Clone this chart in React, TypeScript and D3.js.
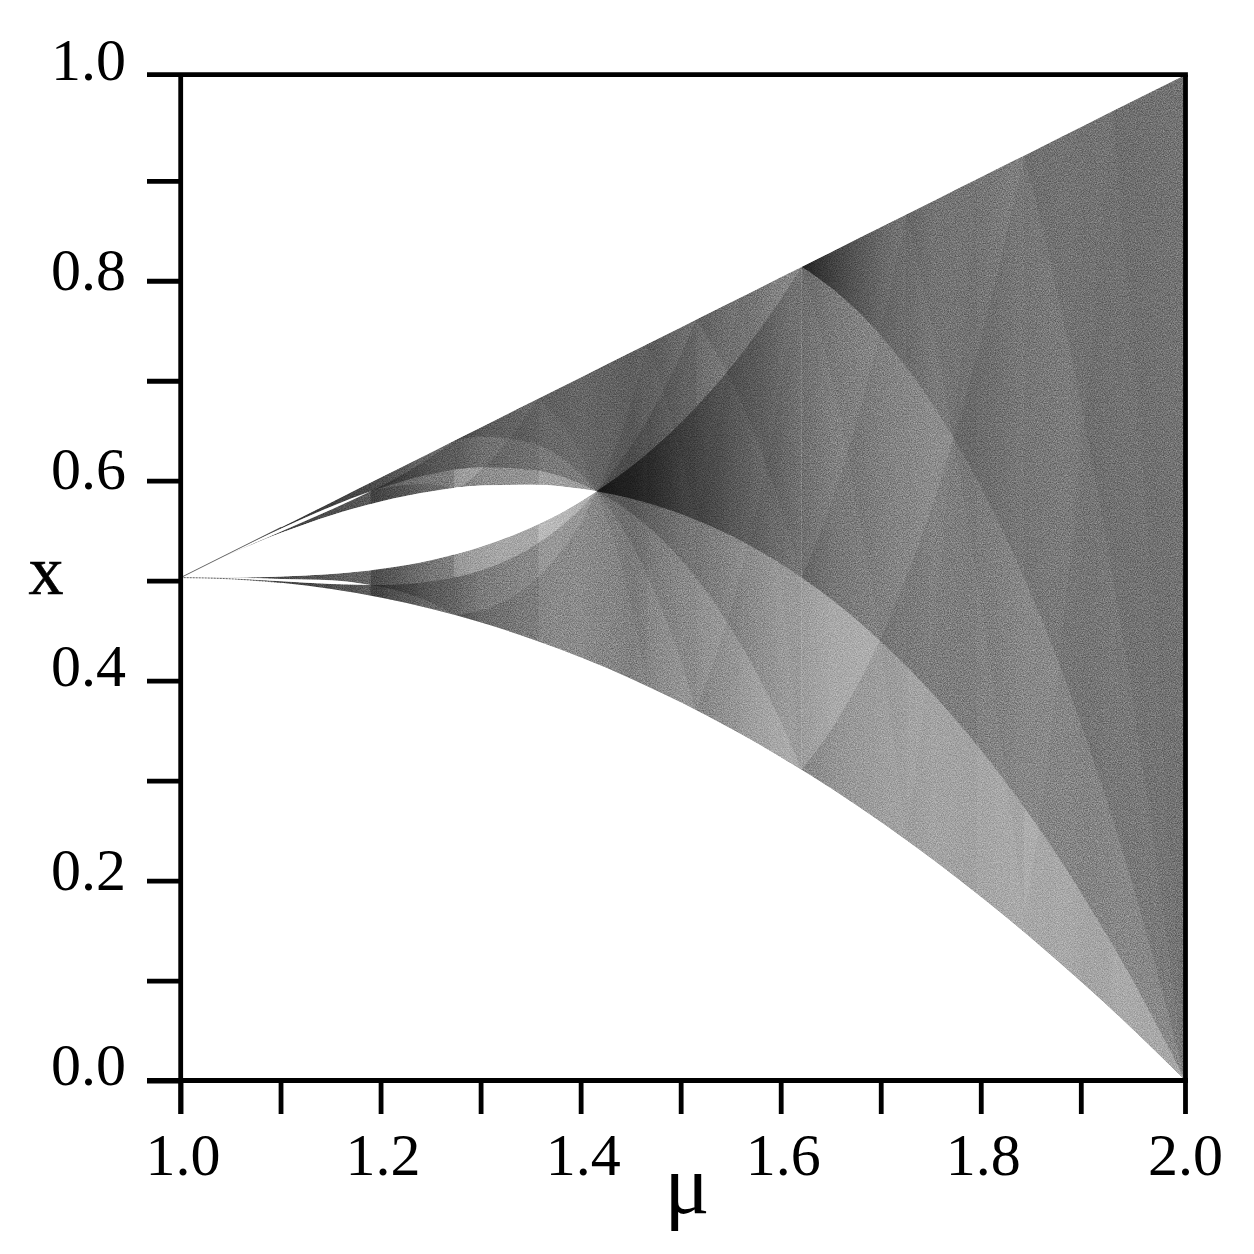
import React from "react";
import * as d3 from "d3";

// Axis ticks, where the printed ticks actually sit on the two axes
const muTicks = [1.0, 1.1, 1.2, 1.3, 1.4, 1.5, 1.6, 1.7, 1.8, 1.9];
const xTicks = [0.0, 0.1, 0.2, 0.3, 0.4, 0.5, 0.6, 0.7, 0.8, 0.9];
const muLabels = ["1.0", "1.2", "1.4", "1.6", "1.8", "2.0"];
const xLabels = ["0.0", "0.2", "0.4", "0.6", "0.8", "1.0"];

// Band edges
const muEnv = [1.0, 1.05, 1.1, 1.15, 1.2, 1.25, 1.3, 1.35, 1.4, 1.45, 1.5, 1.55, 1.6, 1.65, 1.7, 1.75, 1.8, 1.85, 1.9, 1.95, 2.0];
const upperEdge = [0.5, 0.525, 0.55, 0.575, 0.6, 0.625, 0.65, 0.675, 0.7, 0.725, 0.75, 0.775, 0.8, 0.825, 0.85, 0.875, 0.9, 0.925, 0.95, 0.975, 1.0];
const lowerEdge = [0.5, 0.49875, 0.495, 0.48875, 0.48, 0.46875, 0.455, 0.43875, 0.42, 0.39875, 0.375, 0.34875, 0.32, 0.28875, 0.255, 0.21875, 0.18, 0.13875, 0.095, 0.04875, 0.0];

const muA = [1.0, 1.05, 1.1, 1.15, 1.2, 1.25, 1.3, 1.35, 1.4, 1.414, 1.45, 1.5, 1.55, 1.6, 1.618, 1.65, 1.7, 1.75, 1.8, 1.85, 1.9, 1.95, 2.0];
const arcA = [0.5, 0.5237, 0.5445, 0.5621, 0.576, 0.5859, 0.5915, 0.5923, 0.588, 0.5858, 0.5782, 0.5625, 0.5406, 0.512, 0.5, 0.4764, 0.4335, 0.3828, 0.324, 0.2567, 0.1805, 0.0951, 0.0];
const arcB = [0.5, 0.5001, 0.5011, 0.5036, 0.5088, 0.5176, 0.5311, 0.5504, 0.5768, 0.5858, 0.6116, 0.6563, 0.7121, 0.7808, 0.809, 0.7861, 0.737, 0.6699, 0.5832, 0.4749, 0.343, 0.1854, 0.0];

const muC = [1.0, 1.05, 1.1, 1.15, 1.1892, 1.2, 1.25, 1.3, 1.35, 1.4, 1.414, 1.45, 1.5, 1.55, 1.6, 1.618, 1.65, 1.7, 1.75, 1.8, 1.8393, 1.85, 1.9, 1.95, 2.0];
const arcC = [0.5, 0.5249, 0.5489, 0.5708, 0.5858, 0.5894, 0.603, 0.6096, 0.607, 0.5925, 0.5858, 0.5631, 0.5156, 0.4462, 0.3507, 0.309, 0.3529, 0.4472, 0.5776, 0.7502, 0.9196, 0.8785, 0.6516, 0.3615, 0.0];

const muD = [1.0, 1.05, 1.1, 1.15, 1.1892, 1.2, 1.25, 1.3, 1.35, 1.4, 1.414, 1.45, 1.5, 1.5129, 1.55, 1.6, 1.618, 1.65, 1.7, 1.722, 1.75, 1.8, 1.8393, 1.85, 1.883, 1.9, 1.9276, 1.95, 2.0];
const arcD = [0.5, 0.4989, 0.4963, 0.4936, 0.4926, 0.4927, 0.4962, 0.5075, 0.5306, 0.5705, 0.5858, 0.6335, 0.7266, 0.7564, 0.6916, 0.5612, 0.5, 0.5823, 0.7602, 0.861, 0.7391, 0.4496, 0.169, 0.2247, 0.5, 0.6619, 0.9638, 0.7049, 0.0];

const muE = [1.0, 1.05, 1.1, 1.15, 1.1892, 1.2, 1.25, 1.272, 1.3, 1.35, 1.4, 1.414, 1.45, 1.5, 1.5129, 1.55, 1.6, 1.618, 1.65, 1.7, 1.722, 1.75, 1.7925];
const arcE = [0.5, 0.5239, 0.5459, 0.5676, 0.5858, 0.5912, 0.6203, 0.636, 0.6403, 0.6337, 0.6013, 0.5858, 0.5315, 0.4102, 0.369, 0.478, 0.7022, 0.809, 0.6892, 0.4076, 0.2393, 0.4565, 0.896];

const muF = [1.0, 1.05, 1.1, 1.15, 1.1892, 1.2, 1.25, 1.272, 1.3, 1.35, 1.4, 1.414, 1.45, 1.464, 1.5, 1.5129, 1.55, 1.556, 1.6, 1.618];
const arcF = [0.5, 0.5, 0.4986, 0.4973, 0.4926, 0.4906, 0.4747, 0.463, 0.4676, 0.4955, 0.5582, 0.5858, 0.6793, 0.732, 0.6152, 0.558, 0.7409, 0.778, 0.4765, 0.309];

const muG = [1.1892, 1.2, 1.25, 1.272, 1.3, 1.356, 1.4, 1.414, 1.45, 1.464];
const arcG = [0.5858, 0.5887, 0.5933, 0.589, 0.6079, 0.678, 0.6185, 0.5858, 0.465, 0.392];

// Each stretch shades the picture below its arc: "dark" deepens it, "light" lifts it
const arcStretches = [
  { mu: muA, x: arcA, order: 2, from: 1.0, to: 2.0, tone: "light" },
  { mu: muA, x: arcB, order: 3, from: 1.0, to: 1.618, tone: "dark" },
  { mu: muA, x: arcB, order: 3, from: 1.618, to: 2.0, tone: "light" },
  { mu: muC, x: arcC, order: 4, from: 1.0, to: 1.618, tone: "light" },
  { mu: muC, x: arcC, order: 4, from: 1.618, to: 1.8393, tone: "dark" },
  { mu: muC, x: arcC, order: 4, from: 1.8393, to: 2.0, tone: "light" },
  { mu: muD, x: arcD, order: 5, from: 1.0, to: 1.5129, tone: "dark" },
  { mu: muD, x: arcD, order: 5, from: 1.5129, to: 1.618, tone: "light" },
  { mu: muD, x: arcD, order: 5, from: 1.618, to: 1.722, tone: "dark" },
  { mu: muD, x: arcD, order: 5, from: 1.722, to: 1.8393, tone: "light" },
  { mu: muD, x: arcD, order: 5, from: 1.8393, to: 1.9276, tone: "dark" },
  { mu: muD, x: arcD, order: 5, from: 1.9276, to: 2.0, tone: "light" },
  { mu: muE, x: arcE, order: 6, from: 1.0, to: 1.272, tone: "dark" },
  { mu: muE, x: arcE, order: 6, from: 1.272, to: 1.5129, tone: "light" },
  { mu: muE, x: arcE, order: 6, from: 1.5129, to: 1.618, tone: "dark" },
  { mu: muE, x: arcE, order: 6, from: 1.618, to: 1.722, tone: "light" },
  { mu: muE, x: arcE, order: 6, from: 1.722, to: 1.7925, tone: "dark" },
  { mu: muF, x: arcF, order: 7, from: 1.0, to: 1.272, tone: "light" },
  { mu: muF, x: arcF, order: 7, from: 1.272, to: 1.464, tone: "dark" },
  { mu: muF, x: arcF, order: 7, from: 1.464, to: 1.5129, tone: "light" },
  { mu: muF, x: arcF, order: 7, from: 1.5129, to: 1.556, tone: "dark" },
  { mu: muF, x: arcF, order: 7, from: 1.556, to: 1.618, tone: "light" },
  { mu: muG, x: arcG, order: 8, from: 1.1892, to: 1.356, tone: "dark" },
  { mu: muG, x: arcG, order: 8, from: 1.356, to: 1.464, tone: "light" },
];

// Darkness scale against mu; repeated mu values are the joins between stretches
const shadeMu = [1.0, 1.1, 1.2, 1.25, 1.272, 1.272, 1.3, 1.356, 1.356, 1.4, 1.414, 1.45, 1.464, 1.464, 1.5, 1.5129, 1.5129, 1.556, 1.556, 1.6, 1.618, 1.618, 1.65, 1.7, 1.722, 1.722, 1.75, 1.8, 1.8393, 1.8393, 1.85, 1.883, 1.9, 1.9276, 1.9276, 2.0];
const shadeScale = [2.0, 1.6, 1.2, 0.88, 0.82, 1.38, 1.05, 0.88, 1.0, 0.92, 0.95, 1.0, 0.92, 1.08, 0.86, 0.83, 1.0, 0.78, 0.85, 0.66, 0.62, 1.18, 0.96, 0.8, 0.74, 0.88, 0.8, 0.78, 0.69, 0.85, 0.83, 0.8, 0.81, 0.79, 0.85, 0.8];

// Extra darkness that gathers at the point where the bands merge
const wedgeMu = [1.414, 1.44, 1.47, 1.5, 1.55, 1.6, 1.618];
const wedgeShade = [0.6, 0.42, 0.28, 0.18, 0.1, 0.05, 0.0];

// Extra darkness in the corner above the peak at mu = 1.618
const cornerMu = [1.618, 1.64, 1.67, 1.7, 1.75];
const cornerShade = [0.55, 0.38, 0.2, 0.08, 0.0];

// Baselines of the x-axis labels against their ticks
const xLabelLift = [4, 9, 5, 8, 8.5, 0];

const W = 1254;
const L = 180.7, R = 1185.5, T = 74.7, B = 1080.5;
const FONT = "'Liberation Serif', 'Times New Roman', serif";

const muScale = d3.scaleLinear().domain([1, 2]).range([L, R]);
const xScale = d3.scaleLinear().domain([0, 1]).range([B, T]);
const muTickScale = d3.scaleLinear().domain([1, 1.9]).range([181, 1081.3]);
const xTickScale = d3.scaleLinear().domain([0, 0.9]).range([1081, 181.3]);

function pairs(mu: number[], x: number[], from: number, to: number): [number, number][] {
  const out: [number, number][] = [];
  mu.forEach((m, i) => {
    if (m >= from - 1e-9 && m <= to + 1e-9) out.push([m, x[i]]);
  });
  return out;
}

const edgeLine = d3
  .line<[number, number]>()
  .x((d) => muScale(d[0]))
  .y((d) => xScale(d[1]))
  .curve(d3.curveMonotoneX);

function bandPath(lowMu: number[], low: number[], highMu: number[], high: number[], from: number, to: number) {
  const lo = pairs(lowMu, low, from, to);
  const hi = pairs(highMu, high, from, to).reverse();
  const a = edgeLine(lo) as string;
  const b = edgeLine(hi) as string;
  return a + "L" + b.slice(1) + "Z";
}

function stretchPath(s: (typeof arcStretches)[number]) {
  const pts = pairs(s.mu, s.x, s.from, s.to);
  const area = d3
    .area<[number, number]>()
    .x((d) => muScale(d[0]))
    .y0(xScale(0))
    .y1((d) => xScale(d[1]))
    .curve(d3.curveMonotoneX);
  return area(pts) as string;
}

const stopAt = (m: number) => `${((m - 1) * 100).toFixed(3)}%`;
const strength = (i: number, order: number) => 1 - Math.exp(-shadeScale[i] / Math.pow(shadeMu[i], order));
const orders = [2, 3, 4, 5, 6, 7, 8];

export default function App() {
  const envelope = bandPath(muEnv, lowerEdge, muEnv, upperEdge, 1, 2);
  const gapMain = bandPath(muA, arcB, muA, arcA, 1, 1.414);
  const gapUpper = bandPath(muE, arcE, muC, arcC, 1, 1.1892);
  const gapLower = bandPath(muD, arcD, muF, arcF, 1, 1.1892);
  const wedge = bandPath(muA, arcA, muA, arcB, 1.414, 1.618);
  const corner = bandPath(muA, arcB, muEnv, upperEdge, 1.618, 1.75);
  const tipUpper = edgeLine(pairs(muEnv, upperEdge, 1, 1.1)) as string;
  const tipLower = edgeLine(pairs(muEnv, lowerEdge, 1, 1.1)) as string;
  const darkFirst = [...arcStretches.filter((s) => s.tone === "dark"), ...arcStretches.filter((s) => s.tone === "light")];
  return (
    <svg width={W} height={W} viewBox={`0 0 ${W} ${W}`} style={{ position: "absolute", left: 0, top: 0, background: "#fff" }}>
      <defs>
        <clipPath id="env"><path d={envelope} /></clipPath>
        <linearGradient id="base" gradientUnits="userSpaceOnUse" x1={L} x2={R} y1={0} y2={0}>
          {shadeMu.map((m, i) => {
            const g = Math.round(255 * Math.exp(-shadeScale[i]));
            return <stop key={i} offset={stopAt(m)} stopColor={`rgb(${g},${g},${g})`} />;
          })}
        </linearGradient>
        {orders.map((n) => (
          <linearGradient key={n} id={`dark${n}`} gradientUnits="userSpaceOnUse" x1={L} x2={R} y1={0} y2={0}>
            {shadeMu.map((m, i) => (
              <stop key={i} offset={stopAt(m)} stopColor="#000" stopOpacity={strength(i, n)} />
            ))}
          </linearGradient>
        ))}
        {orders.map((n) => (
          <linearGradient key={n} id={`light${n}`} gradientUnits="userSpaceOnUse" x1={L} x2={R} y1={0} y2={0}>
            {shadeMu.map((m, i) => {
              const g = Math.round(255 * strength(i, n));
              return <stop key={i} offset={stopAt(m)} stopColor={`rgb(${g},${g},${g})`} />;
            })}
          </linearGradient>
        ))}
        <linearGradient id="wedgeFill" gradientUnits="userSpaceOnUse" x1={muScale(1.414)} x2={muScale(1.618)} y1={0} y2={0}>
          {wedgeMu.map((m, i) => (
            <stop key={m} offset={`${((m - 1.414) / 0.204) * 100}%`} stopColor="#000" stopOpacity={wedgeShade[i]} />
          ))}
        </linearGradient>
        <linearGradient id="cornerFill" gradientUnits="userSpaceOnUse" x1={muScale(1.618)} x2={muScale(1.75)} y1={0} y2={0}>
          {cornerMu.map((m, i) => (
            <stop key={m} offset={`${((m - 1.618) / 0.132) * 100}%`} stopColor="#000" stopOpacity={cornerShade[i]} />
          ))}
        </linearGradient>
        <filter id="grain" x="0" y="0" width="100%" height="100%" colorInterpolationFilters="sRGB">
          <feTurbulence type="fractalNoise" baseFrequency="0.85" numOctaves={2} seed={7} />
          <feColorMatrix type="matrix" values="1.6 0 0 0 -0.3  1.6 0 0 0 -0.3  1.6 0 0 0 -0.3  0 0 0 0 1" />
        </filter>
      </defs>

      <g clipPath="url(#env)" style={{ isolation: "isolate" }}>
        <path d={envelope} fill="url(#base)" />
        {darkFirst.map((s, i) =>
          s.tone === "dark" ? (
            <path key={i} d={stretchPath(s)} fill={`url(#dark${s.order})`} />
          ) : (
            <path key={i} d={stretchPath(s)} fill={`url(#light${s.order})`} style={{ mixBlendMode: "color-dodge" }} />
          )
        )}
        <path d={wedge} fill="url(#wedgeFill)" />
        <path d={corner} fill="url(#cornerFill)" />
        <rect x={L} y={T} width={R - L} height={B - T} filter="url(#grain)" opacity={0.3} style={{ mixBlendMode: "overlay" }} />
        <path d={gapMain} fill="#fff" />
        <path d={gapUpper} fill="#fff" />
        <path d={gapLower} fill="#fff" />
      </g>

      <g fill="none" stroke="#444" strokeWidth={0.8}>
        <path d={tipUpper} />
        <path d={tipLower} strokeDasharray="2 1" />
      </g>

      <g stroke="#000" strokeWidth={4.8} fill="none">
        {xTicks.map((t) => (
          <line key={t} x1={147} x2={L} y1={xTickScale(t)} y2={xTickScale(t)} />
        ))}
        {muTicks.map((t) => (
          <line key={t} x1={muTickScale(t)} x2={muTickScale(t)} y1={B} y2={1114} />
        ))}
        <line x1={147} x2={R + 2.4} y1={T} y2={T} />
        <line x1={147} x2={R + 2.4} y1={B} y2={B} />
        <line x1={L} x2={L} y1={T} y2={1114} />
        <line x1={R} x2={R} y1={T} y2={1114} />
      </g>

      <g fontFamily={FONT} fontSize={60} fill="#000">
        {xLabels.map((l, i) => (
          <text key={l} x={126} y={+l === 1 ? 80 : xTickScale(+l) + xLabelLift[i]} textAnchor="end">{l}</text>
        ))}
        {muLabels.map((l) => (
          <text key={l} x={+l === 2 ? R : muTickScale(+l) + 2} y={1175} textAnchor="middle">{l}</text>
        ))}
        <text x={46} y={594} fontSize={70} textAnchor="middle" stroke="#000" strokeWidth={0.6}>x</text>
        <text x={687} y={1213} fontSize={84} textAnchor="middle">μ</text>
      </g>
    </svg>
  );
}
